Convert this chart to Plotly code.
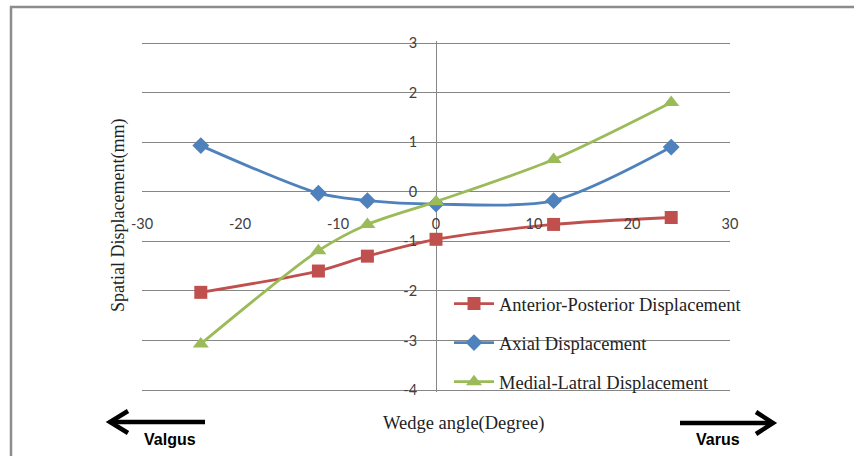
import plotly.graph_objects as go

# ---- data ----
wedge_angle = [-24, -12, -7, 0, 12, 24]
ap_disp = [-2.03, -1.60, -1.30, -0.96, -0.66, -0.52]
axial_disp = [0.93, -0.03, -0.18, -0.25, -0.18, 0.90]
ml_disp = [-3.07, -1.19, -0.66, -0.20, 0.65, 1.80]

series_names = ["Anterior-Posterior Displacement", "Axial Displacement", "Medial-Latral Displacement"]
x_ticks = [-30, -20, -10, 0, 10, 20, 30]
y_ticks = [-4, -3, -2, -1, 0, 1, 2, 3]
x_tick_labels = ["-30", "-20", "-10", "0", "10", "20", "30"]
y_tick_labels = ["-4", "-3", "-2", "-1", "0", "1", "2", "3"]

W, H = 854, 456
ML, MR, MT, MB = 142, 124, 41, 64
PW, PH = W - ML - MR, H - MT - MB
unit = (390 - 43) / 7.0  # px per y unit in the reference
y_lo = -4 - ((H - MB) - 390) / unit
y_hi = 3 + (43 - MT) / unit


def px(x):
    return (x - ML) / PW


def py(y):
    return (H - MB - y) / PH


fig = go.Figure()
styles = [
    dict(color="#C0504D", symbol="square", size=13),
    dict(color="#4F81BD", symbol="diamond", size=13),
    dict(color="#9BBB59", symbol="triangle-up", size=14),
]
for i, (name, vals) in enumerate(zip(series_names, [ap_disp, axial_disp, ml_disp])):
    st = styles[i]
    fig.add_trace(go.Scatter(
        x=wedge_angle, y=vals, name=name, mode="lines+markers",
        legendgroup=f"g{i}",
        line=dict(color=st["color"], width=2.8, shape="spline", smoothing=0.8),
        marker=dict(color=st["color"], symbol=st["symbol"], size=st["size"]),
    ))

tick_font = dict(family="Lato, Liberation Sans, sans-serif", size=14.5, color="#404040")
serif = "Liberation Serif, Times New Roman, serif"

fig.update_layout(
    width=W, height=H,
    margin=dict(l=ML, r=MR, t=MT, b=MB),
    paper_bgcolor="white", plot_bgcolor="white",
    showlegend=True,
    legend=dict(x=px(449), y=py(285), xanchor="left", yanchor="top",
                font=dict(family=serif, size=18.5, color="#222222"),
                bgcolor="rgba(0,0,0,0)", tracegroupgap=12,
                itemwidth=40),
    xaxis=dict(range=[-30, 30], tickvals=x_ticks, ticktext=x_tick_labels, showgrid=False,
               zeroline=True, zerolinecolor="#868686", zerolinewidth=1,
               anchor="free", position=py(207), showline=False,
               ticks="outside", ticklen=4, tickcolor="rgba(0,0,0,0)",
               tickfont=tick_font),
    yaxis=dict(range=[y_lo, y_hi], tickvals=y_ticks, ticktext=y_tick_labels, showgrid=True,
               gridcolor="#868686", gridwidth=1, zeroline=False,
               anchor="free", position=0.5, showline=False,
               ticks="outside", ticklen=16, tickcolor="rgba(0,0,0,0)",
               tickfont=tick_font),
    annotations=[
        dict(text="Spatial Displacement(mm)", xref="paper", yref="paper",
             x=px(118), y=py(216), xanchor="center", yanchor="middle",
             showarrow=False, textangle=-90,
             font=dict(family=serif, size=18, color="#222222")),
        dict(text="Wedge angle(Degree)", xref="paper", yref="paper",
             x=px(463), y=py(423), xanchor="center", yanchor="middle",
             showarrow=False,
             font=dict(family=serif, size=18.5, color="#222222")),
        dict(text="<b>Valgus</b>", xref="paper", yref="paper",
             x=px(170), y=py(439), xanchor="center", yanchor="middle",
             showarrow=False,
             font=dict(family="Liberation Sans, Arial, sans-serif", size=16, color="black")),
        dict(text="<b>Varus</b>", xref="paper", yref="paper",
             x=px(718), y=py(439), xanchor="center", yanchor="middle",
             showarrow=False,
             font=dict(family="Liberation Sans, Arial, sans-serif", size=16, color="black")),
    ],
)


def path(points):
    return "M " + " L ".join(f"{px(a):.5f},{py(b):.5f}" for a, b in points)


shapes = [
    dict(type="rect", xref="paper", yref="paper", x0=px(11), x1=px(900),
         y0=py(7), y1=py(520), line=dict(color="#8c8c8c", width=2.5)),
    dict(type="path", xref="paper", yref="paper", path=path([(205, 422), (111, 422)]),
         line=dict(color="black", width=4.5)),
    dict(type="path", xref="paper", yref="paper", path=path([(128, 411), (110, 422), (128, 433)]),
         line=dict(color="black", width=4.5)),
    dict(type="path", xref="paper", yref="paper", path=path([(680, 423), (771, 423)]),
         line=dict(color="black", width=4.5)),
    dict(type="path", xref="paper", yref="paper", path=path([(756, 412), (773, 423), (756, 434)]),
         line=dict(color="black", width=4.5)),
]
fig.update_layout(shapes=shapes)

fig.write_html("out.html", config={"displayModeBar": False},
               post_script="document.body.style.margin='0';")
